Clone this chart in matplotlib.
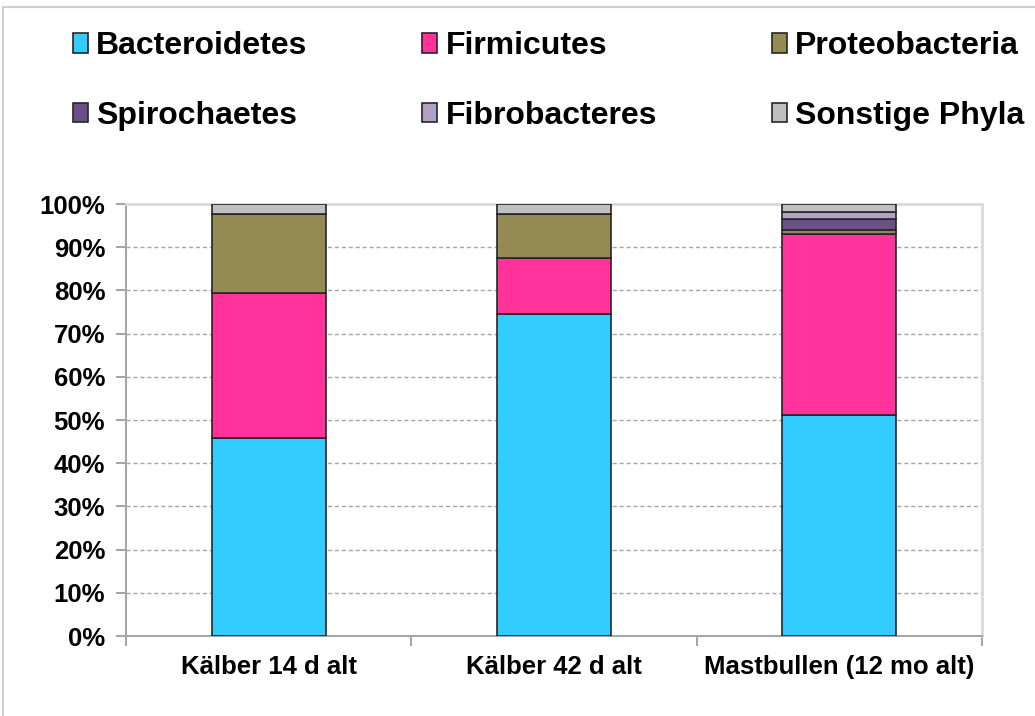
import numpy as np
import matplotlib.pyplot as plt
from matplotlib.patches import Rectangle

plt.rcParams['font.family'] = ['Liberation Sans', 'DejaVu Sans']
plt.rcParams['font.weight'] = 'bold'

groups = ["Kälber 14 d alt", "Kälber 42 d alt", "Mastbullen (12 mo alt)"]
phyla = ["Bacteroidetes", "Firmicutes", "Proteobacteria",
         "Spirochaetes", "Fibrobacteres", "Sonstige Phyla"]

# percent of reads per phylum
bacteroidetes = [45.8, 74.5, 51.2]
firmicutes = [33.6, 12.9, 41.8]
proteobacteria = [18.4, 10.3, 1.0]
spirochaetes = [0.0, 0.0, 2.5]
fibrobacteres = [0.0, 0.0, 1.7]
sonstige = [2.2, 2.3, 1.8]

colors = ["#33ccff", "#ff3399", "#948a54", "#6a5088", "#b3a2c7", "#c0c0c0"]

series = [bacteroidetes, firmicutes, proteobacteria,
          spirochaetes, fibrobacteres, sonstige]

fig = plt.figure(figsize=(10.35, 7.16), dpi=100)
ax = fig.add_axes([126 / 1035, 1 - 636 / 716, 856 / 1035, 432 / 716])

x = np.arange(len(groups))
bottom = np.zeros(len(groups))
bars = []
for vals, col, name in zip(series, colors, phyla):
    vals = np.array(vals)
    b = ax.bar(x, vals, width=0.4, bottom=bottom, color=col,
               edgecolor="#262626", linewidth=1.2, label=name, zorder=3)
    bars.append(b)
    bottom += vals

ax.set_xlim(-0.5, 2.5)
ax.set_ylim(0, 100)
ax.set_yticks(np.arange(0, 101, 10))
ax.set_yticklabels([f"{v}%" for v in range(0, 101, 10)], fontsize=18.5, fontweight="bold")
ax.set_xticks(x)
ax.set_xticklabels(groups, fontsize=18.5, fontweight="bold")
ax.set_xticks([-0.5, 0.5, 1.5, 2.5], minor=True)
ax.tick_params(axis="x", which="major", length=0, pad=14)
ax.tick_params(axis="x", which="minor", length=7, color="#a6a6a6", width=1.5)
ax.tick_params(axis="y", length=7, color="#a6a6a6", width=1.5, pad=8)

for v in range(10, 100, 10):
    ax.axhline(v, color="#a6a6a6", linestyle=(0, (3, 2)), linewidth=1, zorder=1)

for s in ["left", "bottom"]:
    ax.spines[s].set_color("#a6a6a6")
    ax.spines[s].set_linewidth(1.5)
for s in ["top", "right"]:
    ax.spines[s].set_color("#d9d9d9")
    ax.spines[s].set_linewidth(2)

# legend in column-major order so rows read left to right
order = [0, 3, 1, 4, 2, 5]
fig.legend([bars[i] for i in order], [phyla[i] for i in order],
           loc="upper left", bbox_to_anchor=(73 / 1035, 1 - 31 / 716),
           ncol=3, frameon=False, borderaxespad=0, borderpad=0,
           handlelength=0.47, handleheight=0.57, handletextpad=0.25,
           columnspacing=3.6, labelspacing=1.25,
           prop={"weight": "bold", "size": 23})

fig.patches.append(Rectangle((3 / 1035, -0.1), 1.2, 1 - 7 / 716 + 0.1,
                             transform=fig.transFigure, fill=False,
                             edgecolor="#d0d0d0", linewidth=1.5))

fig.savefig("out.png", dpi=100)
